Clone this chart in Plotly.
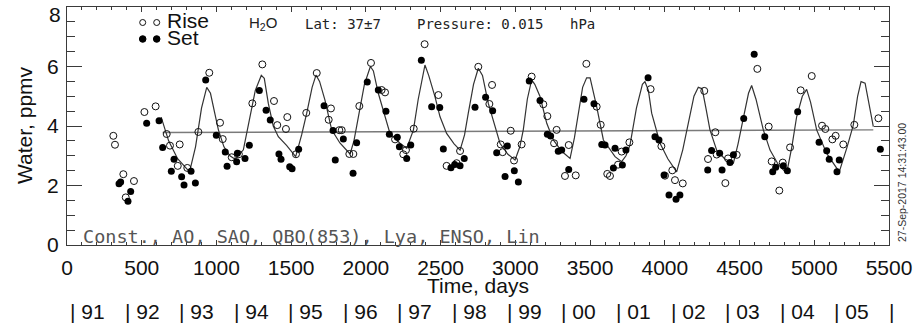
import plotly.graph_objects as go

# ---------------- data ----------------
rise_day = [310, 321, 377, 393, 448, 518, 593, 667, 689, 741, 754, 805, 879, 952, 1024, 1042, 1102, 1150,
            1240, 1307, 1385, 1407, 1465, 1474, 1532, 1601, 1671, 1751, 1766, 1822, 1838, 1889, 1916, 1956,
            2034, 2105, 2128, 2195, 2250, 2268, 2320, 2393, 2485, 2540, 2607, 2630, 2752, 2826, 2844,
            2902, 2915, 2969, 2991, 3042, 3109, 3187, 3214, 3259, 3276, 3332, 3357, 3404, 3475, 3544, 3571,
            3615, 3633, 3687, 3711, 3763, 3905, 3977, 4001, 4050, 4068, 4120, 4264, 4289, 4338, 4347, 4405,
            4423, 4481, 4619, 4695, 4715, 4766, 4789, 4838, 4909, 4983, 5052, 5074, 5121, 5143, 5194, 5268, 5429]
rise_val = [3.67, 3.37, 2.38, 1.60, 2.15, 4.47, 4.66, 3.73, 3.34, 2.66, 3.38, 2.59, 3.80, 5.79, 4.11, 3.56, 2.95, 3.05,
            4.76, 6.07, 4.84, 4.03, 3.90, 4.30, 3.05, 4.44, 5.78, 4.21, 4.59, 3.86, 3.86, 3.06, 3.06, 4.67,
            6.12, 5.21, 5.13, 3.55, 3.05, 3.19, 3.91, 6.75, 5.04, 2.66, 2.75, 3.16, 5.99, 4.74, 5.38,
            3.38, 3.12, 3.84, 2.84, 3.38, 5.66, 4.73, 4.33, 3.42, 3.87, 2.32, 3.36, 2.34, 6.09, 4.65, 4.04,
            2.39, 2.32, 2.70, 3.14, 3.45, 5.24, 3.32, 2.33, 2.51, 2.18, 2.07, 5.18, 2.89, 3.79, 3.04, 2.08,
            2.91, 3.03, 5.92, 3.98, 2.81, 1.83, 2.77, 3.28, 5.20, 5.68, 4.01, 3.90, 3.55, 3.67, 3.38, 4.04, 4.26]

set_day = [348, 359, 408, 426, 533, 616, 640, 698, 716, 767, 783, 830, 859, 928, 999, 1059, 1071, 1135, 1140,
           1191, 1220, 1287, 1332, 1360, 1418, 1432, 1490, 1506, 1550, 1720, 1780, 1795, 1849, 1914, 1938,
           2009, 2083, 2134, 2157, 2210, 2224, 2273, 2300, 2371, 2440, 2494, 2518, 2569, 2594, 2630, 2658,
           2730, 2801, 2848, 2875, 2931, 2946, 2993, 3020, 3093, 3165, 3214, 3236, 3287, 3310, 3357,
           3459, 3526, 3578, 3600, 3656, 3667, 3716, 3740, 3888, 3934, 3961, 3995, 4028, 4075, 4101,
           4287, 4313, 4367, 4383, 4436, 4459, 4528, 4598, 4669, 4722, 4742, 4793, 4820, 4889,
           5032, 5083, 5100, 5152, 5167, 5442]
set_val = [2.06, 2.12, 1.47, 1.80, 4.09, 4.18, 3.28, 2.48, 2.88, 2.29, 2.02, 2.48, 2.08, 5.55, 3.69, 3.13, 2.65, 2.80, 3.08,
           2.91, 3.35, 5.19, 4.53, 4.20, 3.06, 2.88, 2.63, 2.56, 3.22, 4.68, 3.85, 2.86, 3.56, 2.41, 3.44,
           5.48, 5.21, 4.50, 3.72, 3.62, 3.30, 2.91, 3.36, 6.21, 4.65, 4.62, 3.23, 2.60, 2.71, 2.66, 2.91,
           4.63, 4.97, 4.51, 3.10, 2.30, 3.33, 2.50, 2.12, 5.51, 4.86, 3.72, 3.66, 3.15, 3.19, 2.54,
           4.90, 4.75, 3.38, 3.36, 2.59, 3.25, 2.69, 3.19, 5.62, 3.64, 3.53, 2.35, 1.68, 1.54, 1.68,
           2.52, 3.18, 3.08, 2.52, 2.77, 3.03, 4.25, 6.41, 3.64, 2.46, 2.61, 2.66, 2.50, 4.48,
           3.45, 3.17, 2.88, 2.46, 2.86, 3.22]

fit_day = [630, 680, 740, 820, 860, 900, 935, 960, 990, 1013, 1050, 1090, 1125,
           1180, 1220, 1260, 1300, 1320, 1347, 1380, 1414, 1469, 1530,
           1570, 1604, 1640, 1666, 1690, 1726, 1771, 1826, 1894,
           1920, 1949, 1990, 2030, 2050, 2083, 2128, 2161, 2228, 2273,
           2318, 2350, 2395, 2420, 2462, 2496, 2540, 2590, 2630,
           2660, 2685, 2720, 2752, 2780, 2819, 2853, 2897, 2950, 2998,
           3030, 3053, 3080, 3109, 3130, 3165, 3210, 3254, 3310, 3366,
           3395, 3421, 3450, 3477, 3500, 3544, 3589, 3667, 3711,
           3740, 3767, 3810, 3850, 3867, 3890, 3912, 3968, 4020, 4079,
           4120, 4157, 4195, 4224, 4250, 4275, 4302, 4347, 4400, 4459,
           4490, 4525, 4560, 4581, 4610, 4659, 4704, 4760, 4815,
           4850, 4882, 4920, 4949, 4975, 5016, 5083, 5167,
           5220, 5261, 5290, 5313, 5340, 5370, 5395]
fit_val = [4.30, 3.50, 2.90, 2.46, 3.30, 4.60, 5.30, 5.10, 4.40, 3.87, 3.30, 3.00, 2.88,
           3.20, 4.20, 5.20, 5.70, 5.60, 4.76, 4.00, 3.64, 3.35, 2.97,
           3.70, 4.43, 5.30, 5.71, 5.50, 4.87, 3.87, 3.43, 3.06,
           3.50, 4.31, 5.40, 6.00, 5.85, 5.10, 4.31, 3.75, 3.42, 3.25,
           3.87, 4.90, 6.05, 5.70, 4.99, 4.31, 3.75, 3.40, 3.19,
           3.70, 4.43, 5.40, 5.94, 5.70, 4.76, 4.20, 3.42, 3.05, 2.86,
           3.30, 3.87, 4.90, 5.55, 5.40, 4.99, 4.09, 3.53, 3.15, 2.91,
           3.60, 4.43, 5.30, 5.62, 5.62, 4.65, 3.53, 2.97, 2.80,
           3.00, 3.36, 4.60, 5.40, 5.49, 5.20, 4.43, 3.42, 2.90, 2.46,
           3.20, 4.09, 5.00, 5.30, 5.25, 4.60, 3.87, 3.19, 2.90, 2.75,
           3.40, 4.26, 5.10, 5.36, 4.90, 3.87, 3.19, 2.70, 2.41,
           3.30, 4.31, 5.00, 5.23, 4.80, 3.87, 3.08, 2.46,
           3.30, 4.03, 5.00, 5.49, 5.44, 4.70, 3.98]

trend_day = [640, 5395]
trend_val = [3.78, 3.87]

x_tick_vals = [0, 500, 1000, 1500, 2000, 2500, 3000, 3500, 4000, 4500, 5000, 5500]
y_tick_vals = [0, 2, 4, 6]
y_top_label = "8"

year_bar_day = [20, 385, 750, 1116, 1481, 1846, 2211, 2577, 2942, 3307, 3672, 4038, 4403, 4768, 5133, 5498]
year_labels = ["91", "92", "93", "94", "95", "96", "97", "98", "99", "00", "01", "02", "03", "04", "05", ""]

fit_terms = "Const., AO, SAO, QBO(853), Lya, ENSO, Lin"
stamp = "27-Sep-2017 14:31:43.00"

# ---------------- layout constants ----------------
W, H = 922, 326
L, R, T, B = 67, 33, 7, 81
PW, PH = W - L - R, H - T - B
SANS = "Liberation Sans, Arial, Helvetica, sans-serif"
MONO = "DejaVu Sans Mono, Liberation Mono, monospace"
AX = "#3a3a3a"


def px(xp):
    return (xp - L) / PW


def py(yp):
    return (H - B - yp) / PH


fig = go.Figure()

fig.add_trace(go.Scatter(x=trend_day, y=trend_val, mode="lines",
                         line=dict(color="#7a7a7a", width=1.4), showlegend=False, hoverinfo="skip"))
fig.add_trace(go.Scatter(x=fit_day, y=fit_val, mode="lines",
                         line=dict(color="#333333", width=1.2), showlegend=False, hoverinfo="skip"))
fig.add_trace(go.Scatter(x=rise_day, y=rise_val, mode="markers", name="Rise",
                         marker=dict(symbol="circle-open", size=7, color="#111111", line=dict(width=1)),
                         showlegend=False))
fig.add_trace(go.Scatter(x=set_day, y=set_val, mode="markers", name="Set",
                         marker=dict(symbol="circle", size=7, color="#000000"),
                         showlegend=False))

fig.update_layout(
    width=W, height=H,
    margin=dict(l=L, r=R, t=T, b=B, pad=0),
    paper_bgcolor="white", plot_bgcolor="white",
    showlegend=False,
    font=dict(family=SANS, color="#111111"),
)

fig.update_xaxes(
    range=[0, 5500], tickvals=x_tick_vals, ticktext=[str(v) for v in x_tick_vals],
    showgrid=False, zeroline=False, showline=True, linecolor=AX, linewidth=1.3, mirror="allticks",
    ticks="inside", ticklen=5, tickwidth=1, tickcolor=AX,
    tickfont=dict(family=SANS, size=21, color="#111111"), ticklabelstandoff=4,
    ticklabeloverflow="allow",
    minor=dict(dtick=100, ticks="inside", ticklen=3, tickcolor=AX, tickwidth=1, showgrid=False),
)
fig.update_yaxes(
    range=[0, 8], tickvals=y_tick_vals, ticktext=[str(v) for v in y_tick_vals],
    showgrid=False, zeroline=False, showline=True, linecolor=AX, linewidth=1.3, mirror="allticks",
    ticks="inside", ticklen=15, tickwidth=1, tickcolor=AX,
    tickfont=dict(family=SANS, size=21, color="#111111"), ticklabelstandoff=3,
    minor=dict(dtick=0.5, ticks="inside", ticklen=8, tickcolor=AX, tickwidth=1, showgrid=False),
)

ann = []
# top y label (placed a little below the top edge, as in the reference)
ann.append(dict(text=y_top_label, xref="paper", yref="paper", x=px(63), y=py(15),
                showarrow=False, font=dict(family=SANS, size=21, color="#111111"),
                xanchor="right", yanchor="middle"))
# axis titles
ann.append(dict(text="Water, ppmv", xref="paper", yref="paper", x=px(24), y=py(125),
                textangle=-90, showarrow=False, font=dict(family=SANS, size=21, color="#111111"),
                xanchor="center", yanchor="middle"))
ann.append(dict(text="Time, days", xref="paper", yref="paper", x=px(478), y=py(285),
                showarrow=False, font=dict(family=SANS, size=21, color="#111111"),
                xanchor="center", yanchor="middle"))
# year row
for d, lab in zip(year_bar_day, year_labels):
    ann.append(dict(text=("| " + lab) if lab else "|", xref="x", yref="paper", x=d, y=py(311),
                    xshift=-2, showarrow=False, font=dict(family=SANS, size=21, color="#111111"),
                    xanchor="left", yanchor="middle"))
# header texts
HDR = dict(family=MONO, size=14, color="#222222")
ann.append(dict(text="H<sub>2</sub>O", xref="paper", yref="paper", x=px(247), y=py(24),
                showarrow=False, font=dict(family=SANS, size=15, color="#222222"),
                xanchor="left", yanchor="middle"))
ann.append(dict(text="Lat: 37±7", xref="paper", yref="paper", x=px(303), y=py(24),
                showarrow=False, font=HDR, xanchor="left", yanchor="middle"))
ann.append(dict(text="Pressure: 0.015", xref="paper", yref="paper", x=px(415), y=py(24),
                showarrow=False, font=HDR, xanchor="left", yanchor="middle"))
ann.append(dict(text="hPa", xref="paper", yref="paper", x=px(568), y=py(24),
                showarrow=False, font=HDR, xanchor="left", yanchor="middle"))
# fit-terms note
ann.append(dict(text=fit_terms, xref="paper", yref="paper", x=px(81), y=py(236),
                showarrow=False, font=dict(family=MONO, size=18.5, color="#555555"),
                xanchor="left", yanchor="middle"))
# timestamp
ann.append(dict(text=stamp, xref="paper", yref="paper", x=px(902), y=py(183),
                textangle=-90, showarrow=False, font=dict(family=SANS, size=10.5, color="#333333"),
                xanchor="center", yanchor="middle"))
# legend labels
ann.append(dict(text="Rise", xref="paper", yref="paper", x=px(165), y=py(20),
                showarrow=False, font=dict(family=SANS, size=21, color="#111111"),
                xanchor="left", yanchor="middle"))
ann.append(dict(text="Set", xref="paper", yref="paper", x=px(165), y=py(37),
                showarrow=False, font=dict(family=SANS, size=21, color="#111111"),
                xanchor="left", yanchor="middle"))

shapes = []
for cx in (142.7, 156.7):
    shapes.append(dict(type="circle", xref="paper", yref="paper", xsizemode="pixel", ysizemode="pixel",
                       xanchor=px(cx), yanchor=py(22.5), x0=-3, x1=3, y0=-3, y1=3,
                       line=dict(color="#111111", width=1), fillcolor="rgba(0,0,0,0)"))
    shapes.append(dict(type="circle", xref="paper", yref="paper", xsizemode="pixel", ysizemode="pixel",
                       xanchor=px(cx), yanchor=py(39), x0=-3.3, x1=3.3, y0=-3.3, y1=3.3,
                       line=dict(color="#000000", width=1), fillcolor="#000000"))

fig.update_layout(annotations=ann, shapes=shapes)

fig.write_html("out.html", config={"displayModeBar": False},
               post_script="document.body.style.margin='0px';document.body.style.overflow='hidden';")
